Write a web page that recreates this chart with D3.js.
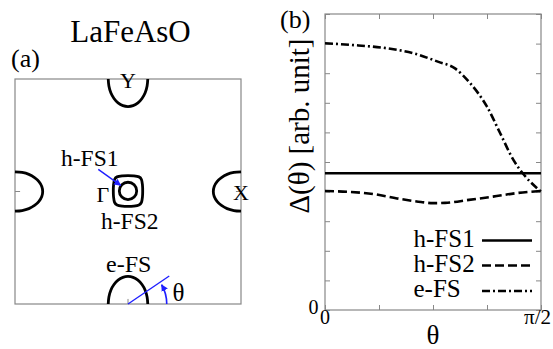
<!DOCTYPE html>
<html>
<head>
<meta charset="utf-8">
<script src="https://cdn.jsdelivr.net/npm/d3@7"></script>
<style>
  body { margin: 0; background: #fff; }
  text { font-family: "Liberation Serif", "Times New Roman", serif; fill: #000; }
</style>
</head>
<body>
<div id="chart"></div>
<script>
// ---- panel (a): Fermi surfaces, k in units of pi ----
// one electron-like pocket in local coords [across, depth] (from the zone edge inward)
const pocketShape = [[-0.175, 0], [-0.169, 0.063], [-0.152, 0.123], [-0.124, 0.173], [-0.088, 0.212],
  [-0.045, 0.237], [0, 0.245], [0.045, 0.237], [0.088, 0.212], [0.124, 0.173], [0.152, 0.123],
  [0.169, 0.063], [0.175, 0]];
const hfs1Radius = 0.077;
const hfs2Shape = [[0.13, 0], [0.128, 0.05], [0.119, 0.097], [0.097, 0.119], [0.05, 0.128], [0, 0.13],
  [-0.05, 0.128], [-0.097, 0.119], [-0.119, 0.097], [-0.128, 0.05], [-0.13, 0], [-0.128, -0.05],
  [-0.119, -0.097], [-0.097, -0.119], [-0.05, -0.128], [0, -0.13], [0.05, -0.128], [0.097, -0.119],
  [0.119, -0.097], [0.128, -0.05]];

// ---- panel (b): gap vs theta (degrees, 90 = pi/2) ----
const hfs1Theta = [0, 90];
const hfs1Gap = [4.62, 4.62];
const hfs2Theta = [0, 10, 20, 30, 40, 45, 50, 60, 70, 80, 90];
const hfs2Gap = [4.02, 3.99, 3.92, 3.77, 3.65, 3.61, 3.62, 3.72, 3.83, 3.95, 4.02];
const efsTheta = [0, 12, 26, 37, 47, 54, 60.5, 67.5, 73, 78.5, 83, 90];
const efsGap = [9.01, 8.95, 8.84, 8.67, 8.39, 8.17, 7.66, 6.87, 5.97, 5.07, 4.56, 4.00];
const legendNames = ["h-FS1", "h-FS2", "e-FS"];

const svg = d3.select("#chart").append("svg")
    .attr("width", 553)
    .attr("height", 349);

svg.append("defs").append("marker")
    .attr("id", "blueHead")
    .attr("viewBox", "0 0 10 10")
    .attr("refX", 9).attr("refY", 5)
    .attr("markerWidth", 7).attr("markerHeight", 7)
    .attr("markerUnits", "userSpaceOnUse")
    .attr("orient", "auto")
    .append("path").attr("d", "M0,0 L10,5 L0,10 z").attr("fill", "#1f1fff");

const grey = "#888";

// ================= panel (a) =================
const kx = d3.scaleLinear().domain([-1, 1]).range([15, 241]);
const ky = d3.scaleLinear().domain([-1, 1]).range([304, 79]);

const pa = svg.append("g");
pa.append("rect").attr("x", kx(-1)).attr("y", ky(1))
    .attr("width", kx(1) - kx(-1)).attr("height", ky(-1) - ky(1))
    .attr("fill", "none").attr("stroke", grey).attr("stroke-width", 1.2);

// small frame ticks at zone-edge centres
const frameTicks = [[[-1, 0], [-0.955, 0]], [[1, 0], [0.955, 0]], [[0, -1], [0, -0.955]], [[0, 1], [0, 0.955]]];
pa.selectAll(".ftick").data(frameTicks).join("line")
    .attr("x1", d => kx(d[0][0])).attr("y1", d => ky(d[0][1]))
    .attr("x2", d => kx(d[1][0])).attr("y2", d => ky(d[1][1]))
    .attr("stroke", grey).attr("stroke-width", 1);

const kline = d3.line().x(d => kx(d[0])).y(d => ky(d[1])).curve(d3.curveCardinal);

// pockets at Y (top), e-FS (bottom), X (right), left
const pockets = [
    pocketShape.map(p => [p[0], 1 - p[1]]),
    pocketShape.map(p => [p[0], -1 + p[1]]),
    pocketShape.map(p => [1 - p[1], p[0]]),
    pocketShape.map(p => [-1 + p[1], p[0]])
];
pa.selectAll(".pocket").data(pockets).join("path")
    .attr("d", kline)
    .attr("fill", "none").attr("stroke", "#000").attr("stroke-width", 2.8);

pa.append("circle")
    .attr("cx", kx(0)).attr("cy", ky(0.005))
    .attr("r", kx(hfs1Radius) - kx(0))
    .attr("fill", "none").attr("stroke", "#000").attr("stroke-width", 2.8);

pa.append("path")
    .attr("d", d3.line().x(d => kx(d[0])).y(d => ky(d[1] * 1.05 + 0.005)).curve(d3.curveCardinalClosed)(hfs2Shape))
    .attr("fill", "none").attr("stroke", "#000").attr("stroke-width", 2.8);

// blue annotations
pa.append("line")
    .attr("x1", kx(-0.263)).attr("y1", ky(0.197))
    .attr("x2", kx(-0.065)).attr("y2", ky(0.055))
    .attr("stroke", "#1f1fff").attr("stroke-width", 1.4)
    .attr("marker-end", "url(#blueHead)");
pa.append("line")
    .attr("x1", kx(0)).attr("y1", ky(-1))
    .attr("x2", kx(0.365)).attr("y2", ky(-0.751))
    .attr("stroke", "#1f1fff").attr("stroke-width", 1.4);
const arcR = kx(0.343) - kx(0);
const arcPath = d3.path();
arcPath.arc(kx(0), ky(-1), arcR, 0, -0.52, true);
pa.append("path").attr("d", arcPath.toString())
    .attr("fill", "none").attr("stroke", "#1f1fff").attr("stroke-width", 1.6)
    .attr("marker-end", "url(#blueHead)");

// labels panel (a)
svg.append("text").attr("x", 130.5).attr("y", 41.5).attr("text-anchor", "middle")
    .style("font-size", "31px").text("LaFeAsO");
svg.append("text").attr("x", 11).attr("y", 67).style("font-size", "26px").text("(a)");
const aLabels = [
    { t: "Y", x: 128, y: 87.5, a: "middle", s: 22 },
    { t: "X", x: 241, y: 200, a: "middle", s: 22 },
    { t: "\u0393", x: 96.5, y: 201.5, a: "start", s: 22 },
    { t: "h-FS1", x: 61, y: 165.5, a: "start", s: 23.5 },
    { t: "h-FS2", x: 101, y: 229, a: "start", s: 23.5 },
    { t: "e-FS", x: 106, y: 271.5, a: "start", s: 24 },
    { t: "\u03b8", x: 172.5, y: 301, a: "start", s: 25 }
];
svg.selectAll(".alab").data(aLabels).join("text")
    .attr("x", d => d.x).attr("y", d => d.y)
    .attr("text-anchor", d => d.a)
    .style("font-size", d => d.s + "px")
    .text(d => d.t);

// ================= panel (b) =================
const x = d3.scaleLinear().domain([0, 90]).range([325, 541]);
const y = d3.scaleLinear().domain([0, 10]).range([310, 14]);

const pb = svg.append("g");
const yTicks = d3.range(0, 11);
const xTicks = [0, 22.5, 45, 67.5, 90];

function styleAxis(g) {
    g.select(".domain").remove();
    g.selectAll(".tick line").attr("stroke", grey);
    g.selectAll(".tick text").remove();
}
pb.append("g").attr("transform", `translate(${x(0)},0)`)
    .call(d3.axisLeft(y).tickValues(yTicks).tickSizeInner(-5).tickSizeOuter(0)).call(styleAxis);
pb.append("g").attr("transform", `translate(${x(90)},0)`)
    .call(d3.axisRight(y).tickValues(yTicks).tickSizeInner(-5).tickSizeOuter(0)).call(styleAxis);
pb.append("g").attr("transform", `translate(0,${y(0)})`)
    .call(d3.axisBottom(x).tickValues(xTicks).tickSizeInner(-5).tickSizeOuter(0)).call(styleAxis);
pb.append("g").attr("transform", `translate(0,${y(10)})`)
    .call(d3.axisTop(x).tickValues(xTicks).tickSizeInner(-5).tickSizeOuter(0)).call(styleAxis);

pb.append("rect").attr("x", x(0)).attr("y", y(10))
    .attr("width", x(90) - x(0)).attr("height", y(0) - y(10))
    .attr("fill", "none").attr("stroke", grey).attr("stroke-width", 1.2);

const gapLine = d3.line().x(d => x(d[0])).y(d => y(d[1])).curve(d3.curveMonotoneX);
const series = [
    { pts: d3.zip(hfs1Theta, hfs1Gap), dash: null },
    { pts: d3.zip(hfs2Theta, hfs2Gap), dash: "9,4" },
    { pts: d3.zip(efsTheta, efsGap), dash: "8,3,2,3" }
];
pb.selectAll(".gap").data(series).join("path")
    .attr("d", d => gapLine(d.pts))
    .attr("fill", "none").attr("stroke", "#000").attr("stroke-width", 2.6)
    .attr("stroke-dasharray", d => d.dash);

// tick labels
svg.append("text").attr("x", 318.5).attr("y", 313.5).attr("text-anchor", "end")
    .style("font-size", "20px").text("0");
svg.append("text").attr("x", x(0)).attr("y", 323.5).attr("text-anchor", "middle")
    .style("font-size", "20px").text("0");
svg.append("text").attr("x", 551).attr("y", 323.5).attr("text-anchor", "end")
    .style("font-size", "21px").text("\u03c0/2");

// axis titles
svg.append("text").attr("x", x(45)).attr("y", 344).attr("text-anchor", "middle")
    .style("font-size", "27px").text("\u03b8");
svg.append("text").attr("transform", "translate(309,126) rotate(-90)").attr("text-anchor", "middle")
    .style("font-size", "29px").text("\u0394(\u03b8) [arb. unit]");
svg.append("text").attr("x", 280).attr("y", 28).style("font-size", "26px").text("(b)");

// legend
const legY = [240.5, 265.5, 291];
const leg = pb.selectAll(".leg").data(legendNames).join("g");
leg.append("text").attr("x", 413.5).attr("y", (d, i) => legY[i] + 6)
    .style("font-size", "25px").text(d => d);
leg.append("line").attr("x1", 482).attr("x2", 532)
    .attr("y1", (d, i) => legY[i]).attr("y2", (d, i) => legY[i])
    .attr("stroke", "#000").attr("stroke-width", 2.6)
    .attr("stroke-dasharray", (d, i) => series[i].dash);
</script>
</body>
</html>
